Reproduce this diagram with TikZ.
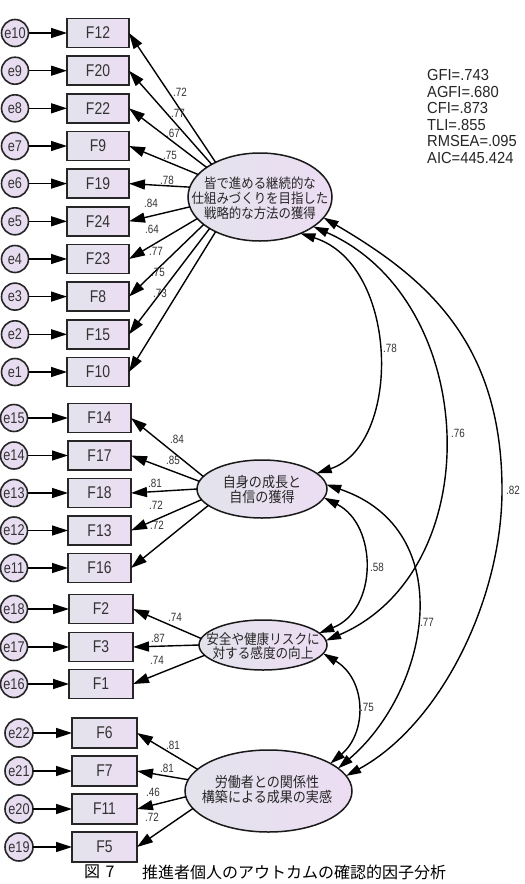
\documentclass[tikz,border=0pt]{standalone}
\usepackage{fontspec}
\setmainfont{Liberation Sans}
\newfontfamily\amos[FakeStretch=0.82]{Liberation Sans}
\newfontfamily\amosw[FakeStretch=0.92]{Liberation Sans}
\newfontfamily\jp{Noto Sans CJK JP}
\newfontfamily\jpn[FakeStretch=0.9]{Noto Sans CJK JP}
\usetikzlibrary{arrows.meta,shapes.geometric}
\definecolor{boxL}{HTML}{E3E3EC}
\definecolor{boxR}{HTML}{ECDDF3}
\definecolor{circ}{HTML}{E7DCF0}
\begin{document}
\begin{tikzpicture}[x=1pt,y=-1pt,
  obs/.style={draw=black!85, line width=1.8pt, minimum height=29pt, inner sep=0pt, outer sep=0pt,
    left color=boxL, right color=boxR, text=black!80, font=\amos\fontsize{17}{17}\selectfont},
  err/.style={circle, draw=black!85, line width=1.6pt, minimum size=27pt, inner sep=0pt, outer sep=0pt,
    fill=circ, text=black!80, font=\amos\fontsize{15.5}{15.5}\selectfont},
  lat/.style={ellipse, draw=black!90, line width=1.5pt, inner sep=0pt, outer sep=0pt,
    left color=boxL, right color=boxR},
  fac/.style={font=\jpn\fontsize{13.8}{15}\selectfont, align=center, inner sep=0pt, text=black!85},
  ld/.style={font=\amos\fontsize{12}{12}\selectfont, inner sep=0pt, text=black!80},
  st/.style={font=\amosw\fontsize{16}{16}\selectfont, inner sep=0pt, anchor=west, text=black!85},
  cp/.style={font=\jp\fontsize{16}{16}\selectfont, inner sep=0pt},
  arr/.style={-{Triangle[length=16pt,width=10pt]}, line width=1.4pt},
  cov/.style={{Triangle[length=15pt,width=9pt]}-{Triangle[length=15pt,width=9pt]}, line width=1.4pt}]
\useasboundingbox (0,0) rectangle (525,884);
\fill[white] (0,0) rectangle (525,884);

% latent factors
\node[lat, minimum width=144pt, minimum height=88pt] (E1) at (260,197) {};
\node[lat, minimum width=130pt, minimum height=58pt] (E2) at (262,489) {};
\node[lat, minimum width=128pt, minimum height=50pt] (E3) at (263,645) {};
\node[lat, minimum width=167pt, minimum height=82pt] (E4) at (268.5,791) {};
\node[fac] (T1) at (260,198) {皆で進める継続的な\\仕組みづくりを目指した\\戦略的な方法の獲得};
\node[fac, font=\jpn\fontsize{14.5}{15}\selectfont] (T2) at (262,489.5) {自身の成長と\\自信の獲得};
\node[fac, font=\jpn\fontsize{14}{14}\selectfont] (T3) at (263,646.5) {安全や健康リスクに\\対する感度の向上};
\node[fac, font=\jpn\fontsize{14.5}{15}\selectfont] (T4) at (267,789.5) {労働者との関係性\\構築による成果の実感};

% group 1
\foreach \b/\e/\y/\a/\l/\lx/\ly in {
  F12/e10/33/142/.72/180/92, F20/e9/70.7/146/.77/178/113, F22/e8/108.3/151/.67/173/133,
  F9/e7/146/160/.75/170/155, F19/e6/183.6/172/.78/167/180, F24/e5/221.3/188/.84/151/203,
  F23/e4/259/199/.64/152/229, F8/e3/296.6/206/.77/156/251, F15/e2/334.3/212/.75/158/272,
  F10/e1/372/218/.73/160/293}{
  \node[obs, minimum width=62pt] (\b) at (98,\y) {\b};
  \node[err] (\e) at (15,\y) {\e};
  \draw[arr] (\e) -- (\b);
  \draw[arr] (E1.\a) -- (\b.east);
  \node[ld] (L\b) at (\lx,\ly) {\l};
}
% group 2
\foreach \b/\e/\y/\a/\l/\lx/\ly in {
  F14/e15/418/168/.84/177/439, F17/e14/455.5/173/.85/173/460, F18/e13/493/180/.81/155/483,
  F13/e12/530.5/190/.72/156/505, F16/e11/568/197/.72/157/525}{
  \node[obs, minimum width=63pt] (\b) at (99.5,\y) {\b};
  \node[err] (\e) at (14,\y) {\e};
  \draw[arr] (\e) -- (\b);
  \draw[arr] (E2.\a) -- (\b.east);
  \node[ld] (L\b) at (\lx,\ly) {\l};
}
% group 3
\foreach \b/\e/\y/\a/\l/\lx/\ly in {
  F2/e18/609/174/.74/175/617, F3/e17/647/180/.87/158/638, F1/e16/684/190/.74/157/660}{
  \node[obs, minimum width=64pt] (\b) at (101,\y) {\b};
  \node[err] (\e) at (14,\y) {\e};
  \draw[arr] (\e) -- (\b);
  \draw[arr] (E3.\a) -- (\b.east);
  \node[ld] (L\b) at (\lx,\ly) {\l};
}
% group 4
\foreach \b/\e/\y/\a/\l/\lx/\ly in {
  F6/e22/733/163/.81/173/745, F7/e21/771/172/.81/167/768, F11/e20/809/184/.46/153/792,
  F5/e19/847/193/.72/152/817}{
  \node[obs, minimum width=65pt, minimum height=30pt] (\b) at (104.5,\y) {\b};
  \node[err, minimum size=28pt] (\e) at (19,\y) {\e};
  \draw[arr] (\e) -- (\b);
  \draw[arr] (E4.\a) -- (\b.east);
  \node[ld] (L\b) at (\lx,\ly) {\l};
}

% covariances
\draw[cov] (E1.-42.5) .. controls (400,265) and (402,445) .. (E2.16);
\draw[cov] (E1.-29.3) .. controls (480,300) and (490,570) .. (E3.4);
\draw[cov] (E1.-18.7) .. controls (423,276) and (502,340) .. (502,490) .. controls (502,600) and (440,725) .. (E4.11);
\draw[cov] (E2.4) .. controls (460,530) and (430,690) .. (E4.18);
\draw[cov] (E2.-8) .. controls (378,525) and (378,610) .. (E3.12);
\draw[cov] (E3.-8) .. controls (367,680) and (367,733) .. (E4.24);
\node[ld] (c12) at (390,348) {.78};
\node[ld] (c13) at (458,433) {.76};
\node[ld] (c14) at (513,490) {.82};
\node[ld] (c23) at (377,567) {.58};
\node[ld] (c24) at (427,622) {.77};
\node[ld] (c34) at (367,707) {.75};

% fit statistics
\node[st] (s1) at (427,75) {GFI=.743};
\node[st] (s2) at (427,91.5) {AGFI=.680};
\node[st] (s3) at (427,108) {CFI=.873};
\node[st] (s4) at (427,124.5) {TLI=.855};
\node[st] (s5) at (427,141) {RMSEA=.095};
\node[st] (s6) at (427,157.5) {AIC=445.424};

% caption
\node[cp] (cap1) at (92,872) {図};
\node[cp] (cap2) at (110,872) {7};
\node[cp, anchor=west] (cap3) at (142,872) {推進者個人のアウトカムの確認的因子分析};
\end{tikzpicture}
\end{document}
